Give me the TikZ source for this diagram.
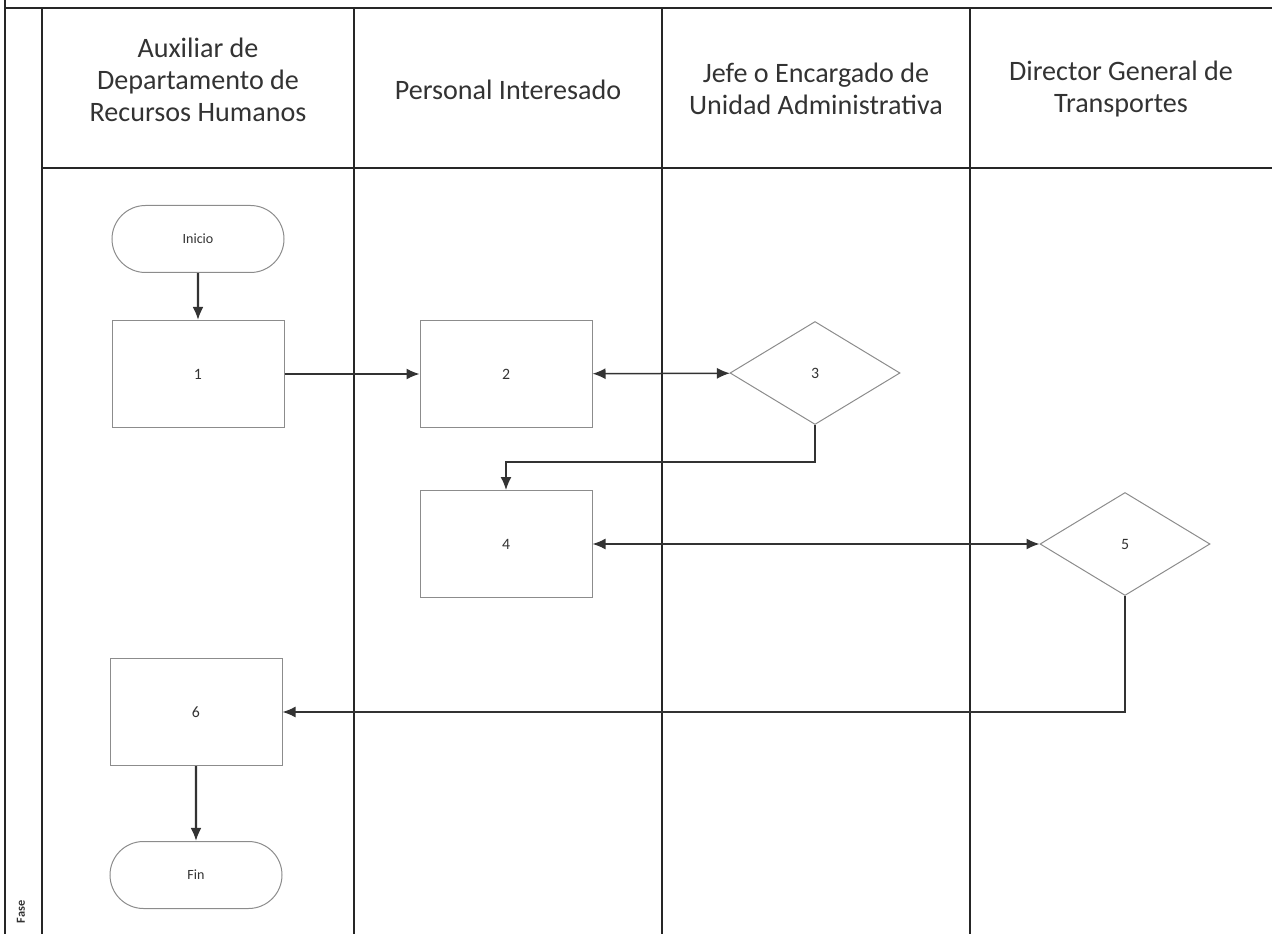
\documentclass[tikz,border=0pt]{standalone}
\usepackage{fontspec}
\setmainfont{Carlito}
\usetikzlibrary{shapes.geometric,shapes.misc,arrows.meta}

\begin{document}
\begin{tikzpicture}[
    x=0.2mm, y=-0.2mm,
    every node/.style={font=\fontsize{9}{11}\selectfont, align=center, text=black!80},
    lane title/.style={font=\fontsize{16}{18.3}\selectfont},
    lane line/.style={draw=black!85, line width=0.3mm},
    activity/.style={rectangle, draw=black!45, line width=0.2mm, minimum width=34.4mm, minimum height=21.4mm, inner sep=0pt},
    decision/.style={diamond, draw=black!45, line width=0.2mm, minimum width=34mm, minimum height=20.6mm, inner sep=0pt},
    terminal/.style={rounded rectangle, draw=black!45, line width=0.2mm, minimum width=34.4mm, minimum height=13.4mm, inner sep=0pt, font=\fontsize{8}{10}\selectfont},
    flow/.style={draw=black!80, line width=0.3mm, -{Latex[length=2.6mm,width=2.2mm]}},
    both flow/.style={flow, {Latex[length=2.6mm,width=2.2mm]}-{Latex[length=2.6mm,width=2.2mm]}},
    thick flow/.style={flow, line width=0.45mm}
]
\useasboundingbox (0,0) rectangle (1272,934);
% Carriles del diagrama: cuatro responsables.
\path[lane line] (5,0) -- (5,934);
\path[lane line] (5,8) -- (1272,8);
\path[lane line] (42,8) -- (42,934);
\path[lane line] (42,168) -- (1272,168);
\foreach \x in {354,662,970}
    \path[lane line] (\x,8) -- (\x,934);

\node[lane title] (titleaux) at (198,80) {Auxiliar de\\Departamento de\\Recursos Humanos};
\node[lane title] (titleper) at (508,90) {Personal Interesado};
\node[lane title] (titlejefe) at (816,89) {Jefe o Encargado de\\Unidad Administrativa};
\node[lane title] (titledir) at (1121,89) {Director General de\\Transportes};
\node[rotate=90, font=\fontsize{7}{8}\selectfont\bfseries] (fase) at (21,912) {Fase};

% Actividades y decisiones.
\node[terminal] (inicio) at (198,239) {Inicio};
\node[activity] (a1) at (198,374) {1};
\node[activity] (a2) at (506,374) {2};
\node[decision] (d3) at (815,373) {3};
\node[activity] (a4) at (506,544) {4};
\node[decision] (d5) at (1125,544) {5};
\node[activity] (a6) at (196,712) {6};
\node[terminal] (fin) at (196,875) {Fin};

\draw[thick flow] (inicio) -- (a1);
\draw[flow] (a1) -- (a2);
\draw[both flow] (a2) -- (d3);
\draw[flow] (d3.south) |- (506,462) -- (a4.north);
\draw[both flow] (a4) -- (d5);
\draw[flow] (d5.south) |- (a6.east);
\draw[thick flow] (a6) -- (fin);
\end{tikzpicture}
\end{document}
